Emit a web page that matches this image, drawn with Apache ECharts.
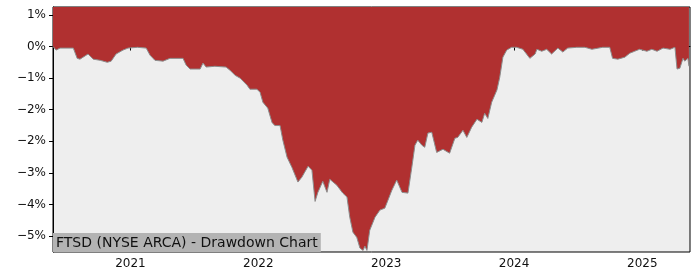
<!DOCTYPE html>
<html>
<head>
<meta charset="utf-8">
<script src="https://cdn.jsdelivr.net/npm/echarts@6/dist/echarts.min.js"></script>
<style>
html,body{margin:0;padding:0;background:#fff;}
#c{width:700px;height:280px;}
</style>
</head>
<body>
<div id="c"></div>
<script>
var dates = [
'2020-05-25','2020-06-03','2020-06-14','2020-07-22','2020-08-02','2020-08-10','2020-09-02','2020-09-17','2020-10-07','2020-10-27',
'2020-11-07','2020-11-21','2020-12-11','2020-12-25','2021-01-21','2021-02-15','2021-02-26','2021-03-12','2021-04-04','2021-04-24',
'2021-05-31','2021-06-09','2021-06-20','2021-07-19','2021-07-27','2021-08-05','2021-08-30','2021-10-01','2021-10-12','2021-10-27',
'2021-11-10','2021-11-30','2021-12-08','2021-12-28','2022-01-06','2022-01-14','2022-01-28','2022-02-09','2022-02-17','2022-03-04',
'2022-03-12','2022-03-24','2022-04-07','2022-04-24','2022-05-05','2022-05-23','2022-06-03','2022-06-12','2022-06-20','2022-07-04',
'2022-07-16','2022-07-24','2022-08-13','2022-08-30','2022-09-11','2022-09-19','2022-09-28','2022-10-09','2022-10-18','2022-10-27',
'2022-11-01','2022-11-07','2022-11-15','2022-11-30','2022-12-14','2022-12-28','2023-01-06','2023-01-17','2023-01-31','2023-02-15',
'2023-03-04','2023-03-15','2023-03-24','2023-04-01','2023-04-13','2023-04-21','2023-04-30','2023-05-11','2023-05-25','2023-06-12',
'2023-07-01','2023-07-16','2023-07-24','2023-08-08','2023-08-19','2023-09-02','2023-09-17','2023-10-01','2023-10-09','2023-10-18',
'2023-10-29','2023-11-13','2023-11-21','2023-11-30','2023-12-11','2023-12-25','2024-01-08','2024-01-26','2024-02-15','2024-03-01',
'2024-03-06','2024-03-20','2024-04-03','2024-04-17','2024-05-05','2024-05-19','2024-06-02','2024-06-28','2024-07-21','2024-08-10',
'2024-09-10','2024-09-30','2024-10-08','2024-10-23','2024-11-12','2024-11-26','2024-12-10','2024-12-24','2025-01-14','2025-01-28',
'2025-02-12','2025-03-01','2025-03-21','2025-04-04','2025-04-10','2025-04-18','2025-04-27','2025-05-02','2025-05-11','2025-05-14'
];
var drawdown = [
0,-0.09,-0.04,-0.04,-0.30,-0.32,-0.19,-0.32,-0.35,-0.40,
-0.37,-0.19,-0.09,-0.04,-0.02,-0.04,-0.22,-0.35,-0.37,-0.30,
-0.30,-0.47,-0.57,-0.57,-0.42,-0.52,-0.50,-0.52,-0.60,-0.73,
-0.80,-0.98,-1.08,-1.08,-1.16,-1.41,-1.56,-1.92,-2.00,-2.00,
-2.37,-2.80,-3.06,-3.43,-3.31,-3.03,-3.13,-3.92,-3.69,-3.41,
-3.69,-3.36,-3.51,-3.71,-3.81,-4.32,-4.70,-4.83,-5.10,-5.16,
-5.05,-5.16,-4.65,-4.32,-4.14,-4.09,-3.89,-3.64,-3.38,-3.69,
-3.71,-3.06,-2.50,-2.37,-2.50,-2.55,-2.19,-2.17,-2.68,-2.60,
-2.70,-2.32,-2.30,-2.12,-2.30,-2.04,-1.84,-1.92,-1.69,-1.82,
-1.41,-1.10,-0.78,-0.27,-0.09,-0.02,-0.02,-0.07,-0.30,-0.19,
-0.07,-0.12,-0.07,-0.19,-0.04,-0.14,-0.04,-0.02,-0.02,-0.07,
-0.02,-0.02,-0.30,-0.32,-0.27,-0.17,-0.12,-0.07,-0.12,-0.07,
-0.12,-0.04,-0.07,-0.02,-0.57,-0.55,-0.30,-0.37,-0.30,-0.50
];
var yTicks = [-4.8,-4.0,-3.2,-2.4,-1.6,-0.8,0,0.8];
var xTicks = ['2021-01-01','2022-01-01','2023-01-01','2024-01-01','2025-01-01'];
var xMin = '2020-05-25', xMax = '2025-05-17';
var yMin = -5.2, yMax = 1.0;
var titleText = 'FTSD (NYSE ARCA) - Drawdown Chart';

function ts(d){return +new Date(d + 'T00:00:00Z');}
var xTickTs = xTicks.map(ts);
var seriesData = dates.map(function(d,i){return [ts(d), drawdown[i]];});

var chart = echarts.init(document.getElementById('c'), null, {renderer:'canvas'});
chart.setOption({
  animation:false,
  textStyle:{fontFamily:'DejaVu Sans'},
  title:{
    text:titleText, left:53, bottom:28,
    backgroundColor:'#b3b3b3', padding:[3,3,2,3],
    textStyle:{fontSize:14, lineHeight:14, fontWeight:'normal', color:'#111', fontFamily:'DejaVu Sans'}
  },
  grid:{left:53, right:10, top:7, bottom:28, show:true, backgroundColor:'#eeeeee', borderColor:'#000', borderWidth:1},
  xAxis:{
    type:'value', min:ts(xMin), max:ts(xMax),
    axisLine:{show:true, lineStyle:{color:'#000', width:1}},
    axisTick:{show:true, length:4, lineStyle:{color:'#000'}, customValues:xTickTs},
    axisLabel:{color:'#111', fontSize:12, margin:6, customValues:xTickTs,
      formatter:function(v){return String(new Date(v).getUTCFullYear());}},
    splitLine:{show:false}
  },
  yAxis:{
    type:'value', min:yMin, max:yMax,
    axisLine:{show:true, lineStyle:{color:'#000', width:1}},
    axisTick:{show:true, length:4, lineStyle:{color:'#000'}, customValues:yTicks},
    axisLabel:{color:'#111', fontSize:12, margin:7, customValues:yTicks,
      formatter:function(v){var r=Math.round(v); return (r<0?'\u2212'+(-r):String(r))+'%';}},
    splitLine:{show:false}
  },
  series:[{
    type:'line', data:seriesData, symbol:'none', smooth:false,
    lineStyle:{color:'#8c8c8c', width:1},
    areaStyle:{origin:'end', color:'#b03030', opacity:1}
  }]
});
</script>
</body>
</html>
